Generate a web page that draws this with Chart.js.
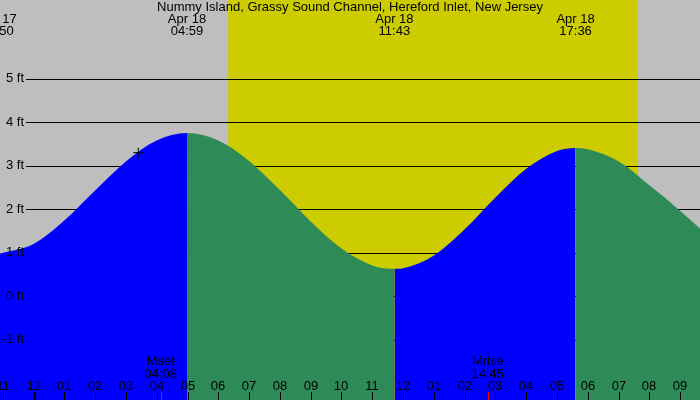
<!DOCTYPE html>
<html>
<head>
<meta charset="utf-8">
<title>Tide chart</title>
<script src="https://cdn.jsdelivr.net/npm/chart.js@4/dist/chart.umd.min.js"></script>
<style>
  html, body { margin: 0; padding: 0; background: #bebebe; }
  #wrap { width: 700px; height: 400px; }
</style>
</head>
<body>
<div id="wrap"><canvas id="tideChart" width="700" height="400"></canvas></div>
<script>
// hours relative to midnight Apr 18, heights in ft
const tideHours = [-1.167, 0, 1, 2, 3, 4, 4.983, 6, 7, 8, 9, 10, 11, 11.717, 12, 13, 14, 15, 16, 17, 17.6, 18, 19, 20, 21, 22];
const tideHeights = [0.97, 1.2, 1.74, 2.43, 3.1, 3.58, 3.75, 3.58, 3.11, 2.44, 1.72, 1.1, 0.71, 0.63, 0.645, 0.94, 1.54, 2.27, 2.93, 3.34, 3.41, 3.38, 3.1, 2.55, 1.96, 1.33];

const eventHours = [-1.167, 4.983, 11.717, 17.6];
const eventDates = ['Apr 17', 'Apr 18', 'Apr 18', 'Apr 18'];
const eventTimes = ['22:50', '04:59', '11:43', '17:36'];

const daylight = [6.32, 19.63]; // sunrise, sunset

const moonHours = [4.133, 14.75];
const moonNames = ['Mset', 'Mrise'];
const moonTimes = ['04:08', '14:45'];

const nowPoint = [3.4, 3.3];

const ftTicks = [5, 4, 3, 2, 1, 0, -1];
const tickHours = [-1, 0, 1, 2, 3, 4, 5, 6, 7, 8, 9, 10, 11, 12, 13, 14, 15, 16, 17, 18, 19, 20, 21];
const tickLabels = ['11', '12', '01', '02', '03', '04', '05', '06', '07', '08', '09', '10', '11', '12', '01', '02', '03', '04', '05', '06', '07', '08', '09'];

const title = 'Nummy Island, Grassy Sound Channel, Hereford Inlet, New Jersey';

const FONT = '13px "Liberation Sans", Arial, sans-serif';

const backdropPlugin = {
    id: 'backdrop',
    beforeDraw(chart) {
        const ctx = chart.ctx;
        const x = chart.scales.x;
        ctx.save();
        ctx.fillStyle = '#bebebe';
        ctx.fillRect(0, 0, chart.width, chart.height);
        const x0 = x.getPixelForValue(daylight[0]);
        const x1 = x.getPixelForValue(daylight[1]);
        ctx.fillStyle = '#cccc00';
        ctx.fillRect(x0, 0, x1 - x0, chart.height);
        ctx.restore();
    },
    beforeDatasetsDraw(chart) {
        // horizontal ft lines sit behind the water
        const ctx = chart.ctx;
        const y = chart.scales.y;
        ctx.save();
        ctx.strokeStyle = '#000';
        ctx.lineWidth = 1;
        ftTicks.forEach(function(v) {
            const py = Math.round(y.getPixelForValue(v)) + 0.5;
            ctx.beginPath();
            ctx.moveTo(26, py);
            ctx.lineTo(chart.width, py);
            ctx.stroke();
        });
        ctx.restore();
    },
    afterDraw(chart) {
        const ctx = chart.ctx;
        const x = chart.scales.x;
        const y = chart.scales.y;
        ctx.save();
        ctx.font = FONT;
        ctx.fillStyle = '#000';
        ctx.textBaseline = 'middle';

        // ft labels
        ctx.textAlign = 'right';
        ftTicks.forEach(function(v) {
            ctx.fillText(v + ' ft', 24, y.getPixelForValue(v));
        });

        ctx.textAlign = 'center';
        ctx.fillText(title, 350, 7);

        // high / low tide times
        eventHours.forEach(function(h, i) {
            const px = x.getPixelForValue(h);
            ctx.fillText(eventDates[i], px, 19);
            ctx.fillText(eventTimes[i], px, 31);
        });

        // hour ticks
        tickHours.forEach(function(h, i) {
            const px = Math.round(x.getPixelForValue(h));
            ctx.fillText(tickLabels[i], px, 386);
            if (h === 0) {
                ctx.fillRect(px - 1, 392, 3, 8);
            } else {
                ctx.fillRect(px, 392, 1, 8);
            }
        });

        // moon rise / set
        moonHours.forEach(function(h, i) {
            const px = x.getPixelForValue(h);
            ctx.fillStyle = '#000';
            ctx.fillText(moonNames[i], px, 361);
            ctx.fillText(moonTimes[i], px, 374);
            ctx.fillStyle = '#ff0000';
            ctx.fillRect(Math.round(px), 392, 1, 8);
        });
        ctx.restore();
    }
};

document.addEventListener('DOMContentLoaded', function() {
    const points = tideHours.map(function(h, i) {
        return { x: h, y: tideHeights[i] };
    });

    new Chart(document.getElementById('tideChart'), {
        type: 'line',
        data: {
            datasets: [
                {
                    type: 'scatter',
                    data: [{ x: nowPoint[0], y: nowPoint[1] }],
                    pointStyle: 'cross',
                    pointRadius: 5,
                    borderColor: '#000',
                    borderWidth: 1,
                    order: 0
                },
                {
                    data: points,
                    borderWidth: 0,
                    borderColor: 'rgba(0,0,0,0)',
                    pointRadius: 0,
                    cubicInterpolationMode: 'monotone',
                    fill: 'start',
                    backgroundColor: '#0000ff',
                    segment: {
                        backgroundColor: function(c) {
                            return c.p1.parsed.y >= c.p0.parsed.y ? '#0000ff' : '#2e8b57';
                        }
                    },
                    order: 1
                }
            ]
        },
        options: {
            responsive: false,
            animation: false,
            layout: { padding: 0, autoPadding: false },
            scales: {
                x: { type: 'linear', display: false, min: -1.088, max: 21.64 },
                y: { type: 'linear', display: false, min: -2.383, max: 6.808 }
            },
            plugins: {
                legend: { display: false },
                tooltip: { enabled: false }
            }
        },
        plugins: [backdropPlugin]
    });
});
</script>
</body>
</html>
